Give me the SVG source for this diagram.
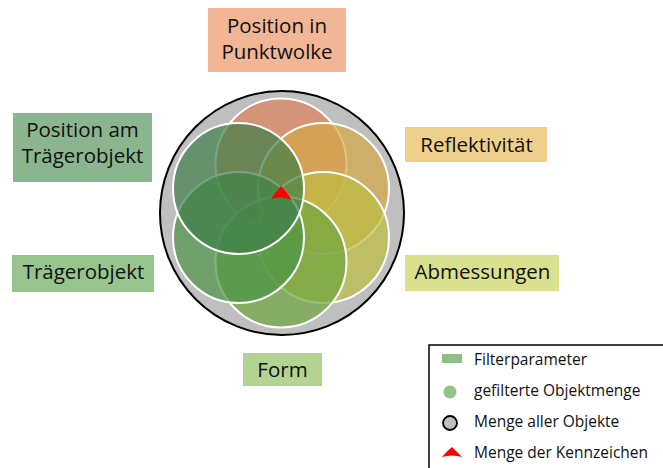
<svg xmlns="http://www.w3.org/2000/svg" width="663" height="468" viewBox="0 0 663 468">
<style>
.lbl{font-family:"Open Sans","Liberation Sans",sans-serif;font-size:20.5px;fill:#111;text-anchor:middle}
.leg{font-family:"Open Sans","Liberation Sans",sans-serif;font-size:15.5px;fill:#111}
.set{stroke:#fff;stroke-width:2}
</style>
<rect width="663" height="468" fill="#fff"/>
<g id="universe">
<circle cx="282" cy="213" r="122" fill="#bfbfbf" stroke="#000" stroke-width="2"/>
</g>
<g id="sets">
<circle id="set-punktwolke" class="set" cx="281" cy="164" r="65.5" fill="#dc825a" fill-opacity="0.7"/>
<circle id="set-reflektivitaet" class="set" cx="323.5" cy="188.5" r="65.5" fill="#d5a646" fill-opacity="0.7"/>
<circle id="set-abmessungen" class="set" cx="323.5" cy="237.5" r="65.5" fill="#bcbe40" fill-opacity="0.7"/>
<circle id="set-form" class="set" cx="281" cy="262" r="65.5" fill="#6fa43e" fill-opacity="0.7"/>
<circle id="set-traegerobjekt" class="set" cx="238.5" cy="237.5" r="65.5" fill="#4a9444" fill-opacity="0.7"/>
<circle id="set-position-traeger" class="set" cx="238.5" cy="188.5" r="65.5" fill="#3f7f48" fill-opacity="0.7"/>
</g>
<g id="kennzeichen">
<path d="M281,186 Q275,192 271,199 Q281,195.5 292,200 Q287,192 281,186 Z" fill="#ff0000"/>
</g>
<g id="node-punktwolke">
<rect x="208" y="8" width="138" height="64" fill="#f2b595"/>
<text class="lbl" x="277" y="33">Position in</text>
<text class="lbl" x="277" y="59">Punktwolke</text>
</g>
<g id="node-position-traeger">
<rect x="13" y="113" width="139" height="69" fill="#8ab58e"/>
<text class="lbl" x="82.5" y="137">Position am</text>
<text class="lbl" x="82.5" y="163">Trägerobjekt</text>
</g>
<g id="node-reflektivitaet">
<rect x="405" y="127" width="142" height="35" fill="#eecf8c"/>
<text class="lbl" x="476.5" y="152">Reflektivität</text>
</g>
<g id="node-abmessungen">
<rect x="405" y="255" width="154" height="36" fill="#d9e18f"/>
<text class="lbl" x="482.5" y="279">Abmessungen</text>
</g>
<g id="node-traegerobjekt">
<rect x="12" y="255" width="142" height="37" fill="#97c38d"/>
<text class="lbl" x="83.5" y="279">Trägerobjekt</text>
</g>
<g id="node-form">
<rect x="243" y="353" width="79" height="33" fill="#b2d391"/>
<text class="lbl" x="282.5" y="377">Form</text>
</g>
<g id="connectors"></g>
<g id="legend">
<rect x="429" y="345" width="250" height="140" fill="#fff" stroke="#000" stroke-width="1.5"/>
<rect x="442" y="354" width="20" height="9" fill="#8fbf86"/>
<text class="leg" x="474" y="365">Filterparameter</text>
<circle cx="450" cy="392" r="6.5" fill="#93c386"/>
<text class="leg" x="474" y="396">gefilterte Objektmenge</text>
<circle cx="450" cy="423" r="7" fill="#bfbfbf" stroke="#000" stroke-width="1.8"/>
<text class="leg" x="474" y="427">Menge aller Objekte</text>
<path d="M452,447 Q446,452 442,457 Q452,454 462,457 Q457,452 452,447 Z" fill="#ff0000"/>
<text class="leg" x="474" y="458">Menge der Kennzeichen</text>
</g>
</svg>
